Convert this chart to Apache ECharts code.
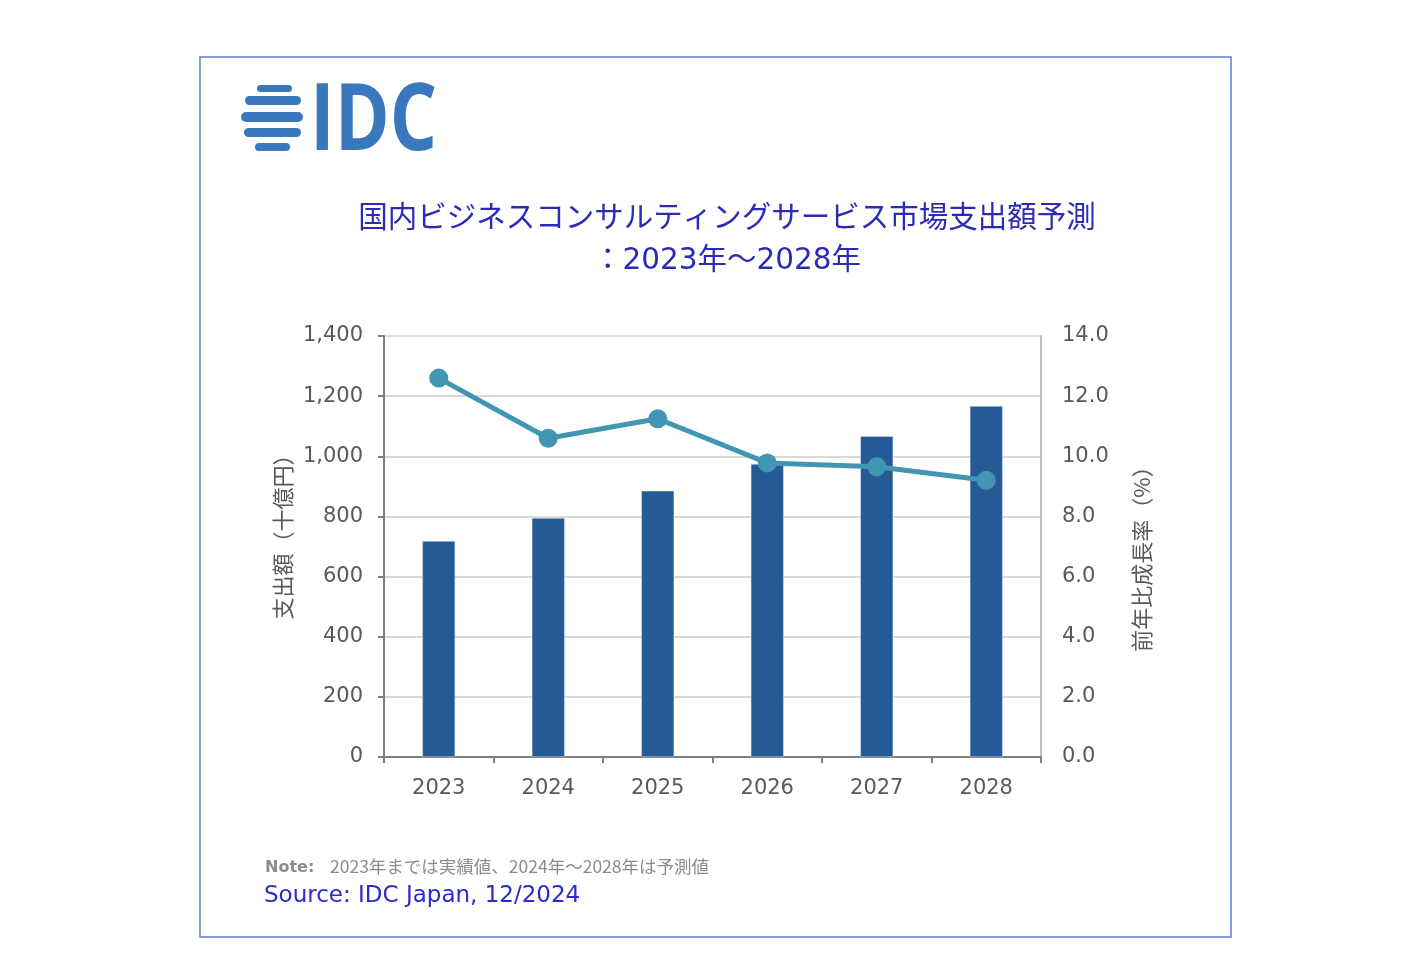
<!DOCTYPE html>
<html><head><meta charset="utf-8">
<script src="https://cdn.jsdelivr.net/npm/echarts@6/dist/echarts.min.js"></script>
<style>html,body{margin:0;padding:0;background:#fff}#c{width:1414px;height:968px}</style>
</head><body><div id="c"></div>
<script>
const years = ['2023','2024','2025','2026','2027','2028'];
const spending = [718, 795, 885, 974, 1067, 1167];
const growth = [12.6, 10.6, 11.25, 9.78, 9.65, 9.2];
const leftTicks = [0, 1400, 200];
const rightTicks = [0, 14, 2];
const titleLines = ['国内ビジネスコンサルティングサービス市場支出額予測', '：2023年～2028年'];
const leftName = '支出額（十億円）';
const rightName = '前年比成長率（%）';
const noteLabel = 'Note:';
const noteText = '2023年までは実績値、2024年～2028年は予測値';
const sourceText = 'Source: IDC Japan, 12/2024';

const chart = echarts.init(document.getElementById('c'));
const JP = '"Noto Sans CJK JP", sans-serif';
const NUM = '"DejaVu Sans", "Noto Sans CJK JP", sans-serif';
const blue = '#3a78bd';
// globe stripes: [y, height, x0, x1]
const stripes = [[85,7,257,292],[96,9,245,301],[112,10,241,303],[128,9,244,301],[143,8,255,290]];
const logo = stripes.map(s => ({type:'rect', shape:{x:s[2], y:s[0], width:s[3]-s[2], height:s[1], r:s[1]/2}, style:{fill:blue}}));

chart.setOption({
  animation:false,
  title:{
    text: titleLines.join('\n'),
    left: 722, top: 193, textAlign:'center',
    textStyle:{fontFamily:NUM, fontSize:29.5, fontWeight:'normal', color:'#2b2bb8', lineHeight:42}
  },
  grid:{left:384, right:373, top:336, bottom:211},
  xAxis:{
    type:'category', data: years,
    axisLine:{lineStyle:{color:'#7f7f7f', width:2}},
    axisTick:{show:true, length:6, lineStyle:{color:'#7f7f7f', width:2}},
    axisLabel:{fontFamily:NUM, fontSize:21, color:'#595959', margin:21}
  },
  yAxis:[{
    type:'value', min:leftTicks[0], max:leftTicks[1], interval:leftTicks[2],
    name:leftName, nameLocation:'middle', nameGap:90, nameRotate:90,
    nameTextStyle:{fontFamily:JP, fontSize:22, color:'#595959', padding:[0,0,0,30]},
    axisLine:{show:true, lineStyle:{color:'#7f7f7f', width:2}},
    axisTick:{show:true, length:6, lineStyle:{color:'#7f7f7f', width:2}},
    axisLabel:{fontFamily:NUM, fontSize:21, color:'#595959', margin:21, padding:[3,0,0,0],
      formatter: v => v.toLocaleString('en-US')},
    splitLine:{lineStyle:{color:'#d9d9d9', width:2}}
  },{
    type:'value', min:rightTicks[0], max:rightTicks[1], interval:rightTicks[2],
    name:rightName, nameLocation:'middle', nameGap:90, nameRotate:90,
    nameTextStyle:{fontFamily:JP, fontSize:22, color:'#595959', padding:[0,14,0,0]},
    axisLine:{show:true, lineStyle:{color:'#bfbfbf', width:2}},
    axisTick:{show:false},
    axisLabel:{fontFamily:NUM, fontSize:21, color:'#595959', margin:21, padding:[3,0,0,0],
      formatter: v => v.toFixed(1)},
    splitLine:{show:false}
  }],
  series:[{
    type:'bar', data: spending, barWidth:'30%', yAxisIndex:0,
    itemStyle:{color:'#255a96', borderColor:'#dbe6f3', borderWidth:0.5}
  },{
    type:'line', data: growth, yAxisIndex:1,
    lineStyle:{color:'#4197b1', width:5},
    itemStyle:{color:'#4197b1'},
    symbol:'circle', symbolSize:19, z:5
  }],
  graphic:[
    {type:'rect', shape:{x:200, y:57, width:1031, height:880}, style:{fill:null, stroke:'#5b7fcf', lineWidth:1.5}, z:-1},
    ...logo,
    {type:'text', x:310, y:77, scaleX:0.8, style:{text:'IDC', fontFamily:'"Open Sans", sans-serif', fontWeight:700, fontSize:93, fill:blue}},
    {type:'text', left:265, top:860, style:{text:noteLabel, fontFamily:NUM, fontWeight:'bold', fontSize:16, fill:'#8c8c8c'}},
    {type:'text', left:330, top:858, style:{text:noteText, fontFamily:JP, fontSize:17.5, fill:'#8c8c8c'}},
    {type:'text', left:264, top:885, style:{text:sourceText, fontFamily:NUM, fontSize:23, fill:'#2b2bcc'}}
  ]
});
</script></body></html>
